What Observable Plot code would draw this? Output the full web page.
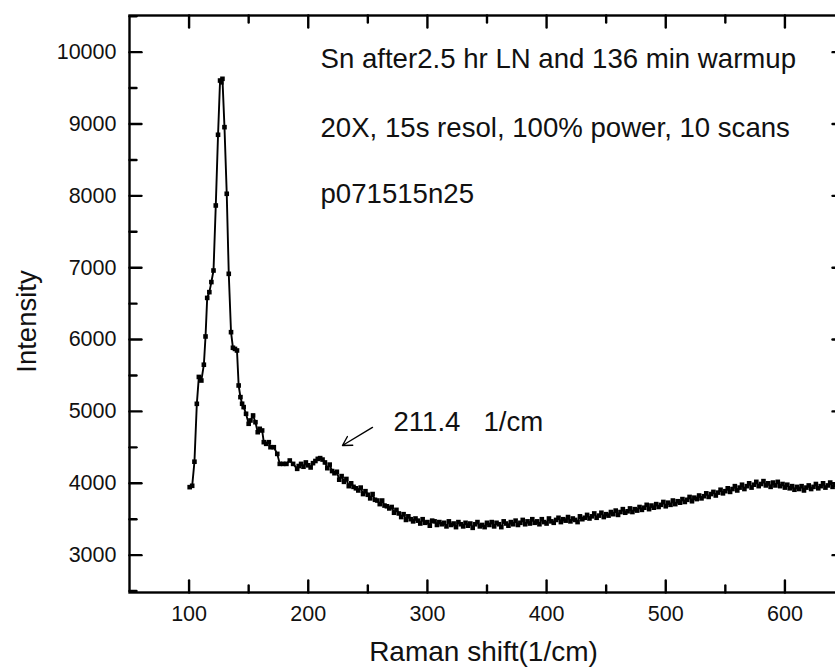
<!DOCTYPE html>
<html>
<head>
<meta charset="utf-8">
<script src="https://cdn.jsdelivr.net/npm/d3@7"></script>
<script src="https://cdn.jsdelivr.net/npm/@observablehq/plot@0.6"></script>
<style>
  html, body { margin: 0; padding: 0; background: white; overflow: hidden; }
  #wrap { width: 835px; height: 671px; overflow: hidden; }
</style>
</head>
<body>
<div id="wrap"></div>
<script>
// ---- data ----
const peakShift = [100.5, 102.6, 104.5, 106.5, 108.2, 110.3, 112.4, 113.8, 115.2, 117.0,
  118.7, 120.5, 122.4, 124.3, 126.0, 127.0, 128.0, 129.7, 131.6, 133.3,
  135.2, 136.8, 138.5, 140.2, 141.6, 143.1, 144.5, 145.8, 147.8, 150.0,
  151.5, 153.7, 155.7, 157.6, 159.3, 161.3, 162.7, 164.7, 166.9, 168.3,
  171.1, 174.0, 176.1, 179.0, 181.7, 184.5, 187.3, 190.7];
const peakIntensity = [3946, 3965, 4300, 5106, 5480, 5430, 5650, 6043, 6580, 6660,
  6800, 6961, 7866, 8850, 9605, 9580, 9629, 8956, 8029, 6915,
  6103, 5886, 5870, 5848, 5361, 5199, 5107, 5060, 4967, 4828,
  4874, 4944, 4850, 4711, 4758, 4735, 4572, 4549, 4572, 4502,
  4502, 4409, 4270, 4270, 4270, 4317, 4270, 4201];

const tailShift = [
  192, 194, 196, 198, 200, 202, 204, 206, 208, 210,
  212, 214, 216, 218, 220, 222, 224, 226, 228, 230,
  232, 234, 236, 238, 240, 242, 244, 246, 248, 250,
  252, 254, 256, 258, 260, 262, 264, 266, 268, 270,
  272, 274, 276, 278, 280, 282, 284, 286, 288, 290,
  292, 294, 296, 298, 300, 302, 304, 306, 308, 310,
  312, 314, 316, 318, 320, 322, 324, 326, 328, 330,
  332, 334, 336, 338, 340, 342, 344, 346, 348, 350,
  352, 354, 356, 358, 360, 362, 364, 366, 368, 370,
  372, 374, 376, 378, 380, 382, 384, 386, 388, 390,
  392, 394, 396, 398, 400, 402, 404, 406, 408, 410,
  412, 414, 416, 418, 420, 422, 424, 426, 428, 430,
  432, 434, 436, 438, 440, 442, 444, 446, 448, 450,
  452, 454, 456, 458, 460, 462, 464, 466, 468, 470,
  472, 474, 476, 478, 480, 482, 484, 486, 488, 490,
  492, 494, 496, 498, 500, 502, 504, 506, 508, 510,
  512, 514, 516, 518, 520, 522, 524, 526, 528, 530,
  532, 534, 536, 538, 540, 542, 544, 546, 548, 550,
  552, 554, 556, 558, 560, 562, 564, 566, 568, 570,
  572, 574, 576, 578, 580, 582, 584, 586, 588, 590,
  592, 594, 596, 598, 600, 602, 604, 606, 608, 610,
  612, 614, 616, 618, 620, 622, 624, 626, 628, 630,
  632, 634, 636, 638, 640, 642, 644, 646, 648, 650];
const tailIntensity = [
  4240, 4270, 4230, 4290, 4250, 4220, 4280, 4310, 4340, 4350,
  4330, 4290, 4210, 4260, 4170, 4140, 4160, 4050, 4100, 4020,
  4060, 3960, 4000, 3950, 3930, 3900, 3940, 3850, 3890, 3840,
  3790, 3850, 3770, 3760, 3710, 3760, 3690, 3680, 3650, 3670,
  3590, 3630, 3580, 3530, 3570, 3490, 3540, 3500, 3470, 3510,
  3480, 3440, 3500, 3450, 3460, 3410, 3480, 3470, 3420, 3460,
  3430, 3450, 3400, 3470, 3420, 3440, 3390, 3460, 3430, 3400,
  3450, 3410, 3440, 3380, 3430, 3460, 3400, 3420, 3390, 3450,
  3420, 3460, 3400, 3450, 3430, 3390, 3470, 3440, 3410, 3460,
  3430, 3480, 3420, 3450, 3490, 3430, 3470, 3440, 3500, 3450,
  3470, 3430, 3500, 3460, 3440, 3510, 3470, 3450, 3490, 3520,
  3460, 3500, 3480, 3530, 3470, 3510, 3490, 3460, 3540, 3500,
  3520, 3560, 3510, 3540, 3580, 3520, 3550, 3590, 3530, 3570,
  3550, 3600, 3570, 3620, 3560, 3600, 3640, 3590, 3610, 3650,
  3600, 3640, 3620, 3670, 3630, 3660, 3700, 3640, 3690, 3660,
  3710, 3670, 3700, 3740, 3680, 3730, 3700, 3760, 3710, 3750,
  3730, 3780, 3740, 3770, 3810, 3750, 3800, 3780, 3830, 3790,
  3820, 3860, 3810, 3850, 3880, 3830, 3870, 3910, 3860, 3890,
  3930, 3880, 3920, 3960, 3900, 3940, 3980, 3920, 3960, 4000,
  3940, 3980, 4020, 3960, 3990, 4030, 3970, 4000, 3950, 4010,
  3970, 4020, 3960, 3990, 3940, 3980, 3930, 3960, 3910, 3950,
  3920, 3960, 3900, 3940, 3970, 3920, 3950, 3990, 3930, 3960,
  4000, 3940, 3970, 4010, 3950, 3980, 3940, 3970, 4000, 3950];

const xMajorTicks = [100, 200, 300, 400, 500, 600];
const xMinorTicks = [150, 250, 350, 450, 550];
const yMajorTicks = [3000, 4000, 5000, 6000, 7000, 8000, 9000, 10000];
const yMinorTicks = [2500, 3500, 4500, 5500, 6500, 7500, 8500, 9500, 10500];

const noteLines = ["Sn after2.5 hr LN and 136 min warmup", "20X, 15s resol, 100% power, 10 scans", "p071515n25"];
const noteX = [210.3, 210.3, 210.3];
const noteY = [9786, 8826, 7894];
const peakLabel = ["211.4   1/cm"];
const peakLabelX = [271.5];
const peakLabelY = [4721];
const arrowFrom = [253.9, 4777];
const arrowTo = [228.7, 4526];

// ---- build table ----
const spectrum = peakShift.map((x, i) => ({x, y: peakIntensity[i]}))
  .concat(tailShift.map((x, i) => ({x, y: tailIntensity[i]})));
const notes = noteLines.map((t, i) => ({t, x: noteX[i], y: noteY[i]}));
const peakNote = peakLabel.map((t, i) => ({t, x: peakLabelX[i], y: peakLabelY[i]}));

const W = 850, H = 671, ML = 129, MR = 6, MT = 15, MB = 79;
const ink = "#000";
const font = "'Liberation Sans', Arial, sans-serif";

// plain line shape for inward ticks (vector points "up" at rotate 0)
const tickShape = {draw(context, l) { context.moveTo(0, 0); context.lineTo(0, -l); }};
const tickOpts = {shape: tickShape, anchor: "start", stroke: ink, strokeWidth: 2.4};

const chart = Plot.plot({
  width: W, height: H,
  marginLeft: ML, marginRight: MR, marginTop: MT, marginBottom: MB,
  style: {fontFamily: font, color: "#111", background: "white", maxWidth: "none", overflow: "hidden"},
  x: {domain: [50, 650]},
  y: {domain: [2480, 10510]},
  marks: [
    Plot.frame({stroke: ink, strokeWidth: 2.4}),
    // inward ticks: bottom, top
    Plot.vector(xMajorTicks, {x: d => d, frameAnchor: "bottom", rotate: 0, length: 12, ...tickOpts}),
    Plot.vector(xMinorTicks, {x: d => d, frameAnchor: "bottom", rotate: 0, length: 7, ...tickOpts}),
    Plot.vector(xMajorTicks, {x: d => d, frameAnchor: "top", rotate: 180, length: 12, ...tickOpts}),
    Plot.vector(xMinorTicks, {x: d => d, frameAnchor: "top", rotate: 180, length: 7, ...tickOpts}),
    // inward ticks: left, right
    Plot.vector(yMajorTicks, {y: d => d, frameAnchor: "left", rotate: 90, length: 12, ...tickOpts}),
    Plot.vector(yMinorTicks, {y: d => d, frameAnchor: "left", rotate: 90, length: 7, ...tickOpts}),
    Plot.vector(yMajorTicks, {y: d => d, frameAnchor: "right", rotate: -90, length: 12, ...tickOpts}),
    Plot.vector(yMinorTicks, {y: d => d, frameAnchor: "right", rotate: -90, length: 7, ...tickOpts}),
    // tick labels
    Plot.axisX({ticks: xMajorTicks, tickSize: 0, tickPadding: 13, fontSize: 21.5, tickFormat: d3.format("d"), label: null}),
    Plot.axisY({ticks: yMajorTicks, tickSize: 0, tickPadding: 13, fontSize: 21.5, tickFormat: d3.format("d"), label: null}),
    // axis titles
    Plot.text(["Raman shift(1/cm)"], {frameAnchor: "bottom", dx: -3.5, dy: 68, fontSize: 28, lineAnchor: "bottom", fill: "#111"}),
    Plot.text(["Intensity"], {frameAnchor: "left", dx: -94, dy: 17.5, rotate: -90, fontSize: 27.5, lineAnchor: "bottom", textAnchor: "middle", fill: "#111"}),
    // spectrum
    Plot.line(spectrum, {x: "x", y: "y", stroke: ink, strokeWidth: 1.9}),
    Plot.dot(spectrum, {x: "x", y: "y", symbol: "square", r: 2.6, fill: ink, stroke: null}),
    // annotations
    Plot.text(notes, {x: "x", y: "y", text: "t", textAnchor: "start", lineAnchor: "bottom", fontSize: 27.6, fill: "#111"}),
    Plot.text(peakNote, {x: "x", y: "y", text: "t", textAnchor: "start", lineAnchor: "bottom", fontSize: 27.6, fill: "#111"}),
    Plot.arrow([0], {x1: () => arrowFrom[0], y1: () => arrowFrom[1], x2: () => arrowTo[0], y2: () => arrowTo[1], stroke: ink, strokeWidth: 1.4, headLength: 11})
  ]
});
document.getElementById("wrap").appendChild(chart);
</script>
</body>
</html>
